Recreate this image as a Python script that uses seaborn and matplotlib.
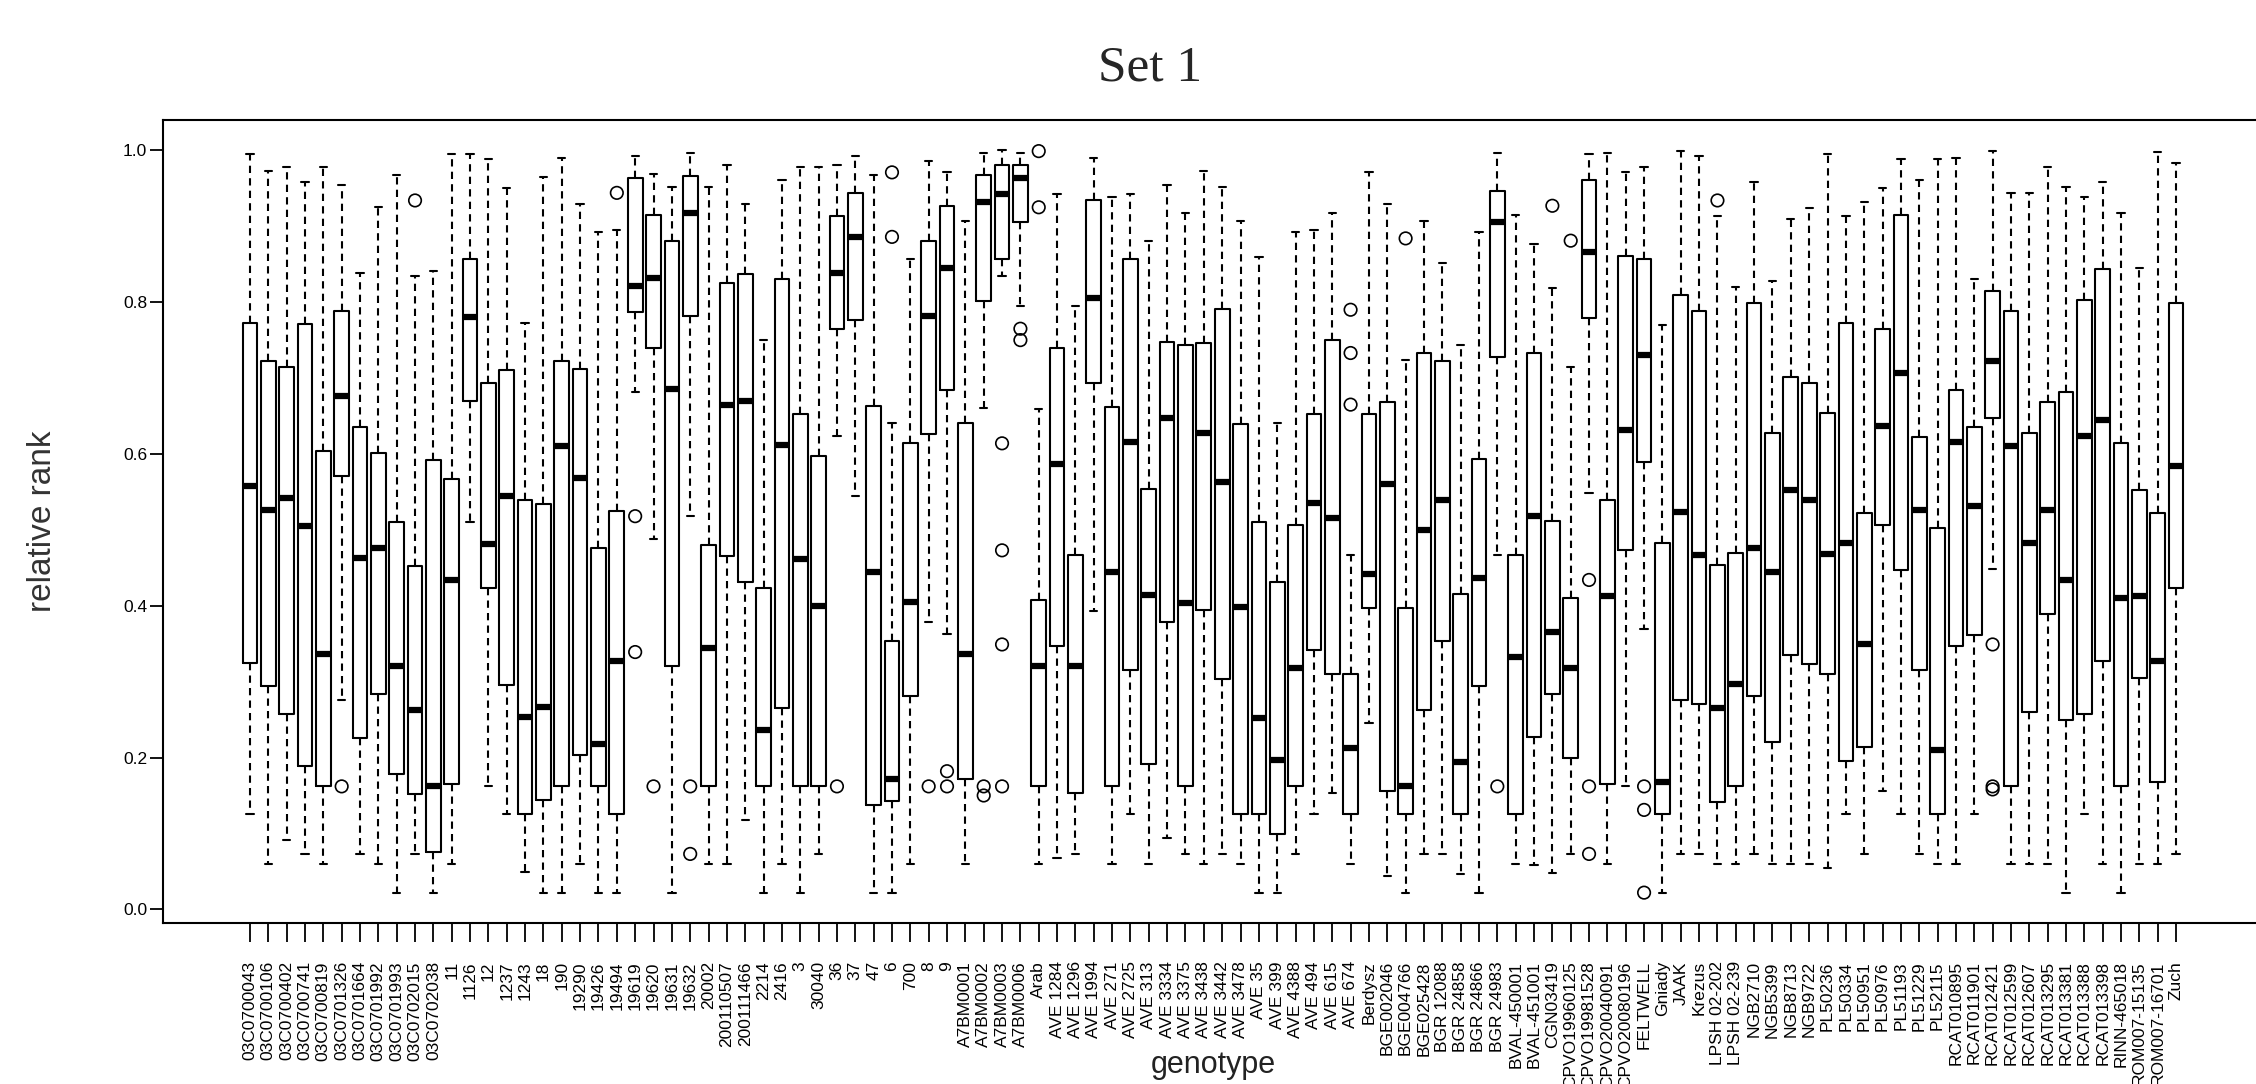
"""Boxplots of relative rank per genotype (Set 1)."""

import matplotlib

matplotlib.use("Agg")
import matplotlib.pyplot as plt
import pandas as pd
import seaborn as sns

genotypes = [
    "03C0700043", "03C0700106", "03C0700402", "03C0700741", "03C0700819",
    "03C0701326", "03C0701664", "03C0701992", "03C0701993", "03C0702015",
    "03C0702038", "11", "1126", "12", "1237", "1243", "18", "190", "19290",
    "19426", "19494", "19619", "19620", "19631", "19632", "20002",
    "200110507", "200111466", "2214", "2416", "3", "30040", "36", "37", "47",
    "6", "700", "8", "9", "A7BM0001", "A7BM0002", "A7BM0003", "A7BM0006",
    "Arab", "AVE 1284", "AVE 1296", "AVE 1994", "AVE 271", "AVE 2725",
    "AVE 313", "AVE 3334", "AVE 3375", "AVE 3438", "AVE 3442", "AVE 3478",
    "AVE 35", "AVE 399", "AVE 4388", "AVE 494", "AVE 615", "AVE 674",
    "Berdysz", "BGE002046", "BGE004766", "BGE025428", "BGR 12088",
    "BGR 24858", "BGR 24866", "BGR 24983", "BVAL-450001", "BVAL-451001",
    "CGN03419", "CPVO19960125", "CPVO19981528", "CPVO20040091",
    "CPVO20080196", "FELTWELL", "Gniady", "JAAK", "Krezus", "LPSH 02-202",
    "LPSH 02-239", "NGB2710", "NGB5399", "NGB8713", "NGB9722", "PL50236",
    "PL50334", "PL50951", "PL50976", "PL51193", "PL51229", "PL52115",
    "RCAT010895", "RCAT011901", "RCAT012421", "RCAT012599", "RCAT012607",
    "RCAT013295", "RCAT013381", "RCAT013388", "RCAT013398", "RINN-465018",
    "ROM007-15135", "ROM007-16701", "Zuch",
]

# five-number summaries (whisker ends, hinges, median)
whisker_low = [
    0.126, 0.060, 0.091, 0.073, 0.060, 0.276, 0.073, 0.060, 0.022, 0.073,
    0.022, 0.060, 0.510, 0.162, 0.126, 0.049, 0.022, 0.022, 0.060, 0.022,
    0.022, 0.682, 0.488, 0.022, 0.518, 0.060, 0.060, 0.118, 0.022, 0.060,
    0.022, 0.073, 0.624, 0.544, 0.022, 0.022, 0.060, 0.379, 0.363, 0.060,
    0.660, 0.835, 0.795, 0.060, 0.067, 0.073, 0.393, 0.060, 0.126, 0.060,
    0.094, 0.073, 0.060, 0.073, 0.060, 0.022, 0.022, 0.073, 0.126, 0.153,
    0.060, 0.245, 0.044, 0.022, 0.073, 0.073, 0.046, 0.022, 0.467, 0.060,
    0.058, 0.048, 0.073, 0.548, 0.060, 0.162, 0.369, 0.022, 0.073, 0.073,
    0.060, 0.060, 0.073, 0.060, 0.060, 0.060, 0.054, 0.126, 0.073, 0.156,
    0.126, 0.073, 0.060, 0.060, 0.126, 0.449, 0.060, 0.060, 0.060, 0.022,
    0.126, 0.060, 0.022, 0.060, 0.060, 0.073,
]
lower_hinge = [
    0.325, 0.294, 0.257, 0.189, 0.162, 0.571, 0.226, 0.284, 0.178, 0.152,
    0.075, 0.165, 0.670, 0.423, 0.296, 0.126, 0.144, 0.162, 0.204, 0.162,
    0.126, 0.787, 0.740, 0.321, 0.782, 0.162, 0.465, 0.431, 0.162, 0.265,
    0.162, 0.162, 0.765, 0.777, 0.138, 0.143, 0.281, 0.626, 0.684, 0.172,
    0.801, 0.857, 0.905, 0.162, 0.347, 0.153, 0.694, 0.162, 0.315, 0.192,
    0.379, 0.162, 0.395, 0.303, 0.126, 0.126, 0.099, 0.162, 0.342, 0.310,
    0.126, 0.397, 0.156, 0.126, 0.262, 0.354, 0.126, 0.294, 0.728, 0.126,
    0.227, 0.284, 0.199, 0.779, 0.165, 0.474, 0.590, 0.126, 0.276, 0.270,
    0.141, 0.162, 0.281, 0.220, 0.335, 0.323, 0.310, 0.196, 0.214, 0.507,
    0.447, 0.315, 0.126, 0.347, 0.361, 0.648, 0.162, 0.260, 0.389, 0.250,
    0.257, 0.327, 0.162, 0.305, 0.168, 0.423,
]
median = [
    0.558, 0.526, 0.542, 0.505, 0.337, 0.676, 0.463, 0.476, 0.321, 0.263,
    0.162, 0.434, 0.780, 0.481, 0.544, 0.254, 0.267, 0.610, 0.568, 0.218,
    0.327, 0.821, 0.832, 0.685, 0.918, 0.344, 0.665, 0.670, 0.236, 0.612,
    0.461, 0.400, 0.838, 0.886, 0.444, 0.172, 0.405, 0.782, 0.845, 0.337,
    0.932, 0.942, 0.964, 0.321, 0.587, 0.321, 0.805, 0.444, 0.616, 0.414,
    0.648, 0.403, 0.627, 0.563, 0.398, 0.252, 0.197, 0.318, 0.536, 0.516,
    0.212, 0.442, 0.561, 0.162, 0.500, 0.539, 0.194, 0.437, 0.906, 0.333,
    0.518, 0.365, 0.318, 0.866, 0.413, 0.631, 0.731, 0.168, 0.524, 0.467,
    0.265, 0.297, 0.476, 0.444, 0.553, 0.539, 0.468, 0.483, 0.349, 0.637,
    0.707, 0.526, 0.210, 0.616, 0.532, 0.723, 0.610, 0.483, 0.526, 0.434,
    0.624, 0.645, 0.410, 0.413, 0.327, 0.584,
]
upper_hinge = [
    0.772, 0.723, 0.714, 0.771, 0.604, 0.789, 0.636, 0.601, 0.510, 0.452,
    0.592, 0.567, 0.857, 0.694, 0.710, 0.539, 0.534, 0.723, 0.712, 0.476,
    0.525, 0.963, 0.915, 0.881, 0.966, 0.480, 0.825, 0.837, 0.423, 0.831,
    0.652, 0.597, 0.913, 0.944, 0.663, 0.354, 0.614, 0.881, 0.927, 0.641,
    0.968, 0.981, 0.981, 0.407, 0.739, 0.467, 0.934, 0.662, 0.857, 0.554,
    0.748, 0.744, 0.746, 0.791, 0.639, 0.510, 0.431, 0.507, 0.652, 0.750,
    0.310, 0.652, 0.668, 0.397, 0.733, 0.723, 0.415, 0.594, 0.947, 0.467,
    0.733, 0.512, 0.410, 0.961, 0.539, 0.861, 0.857, 0.483, 0.810, 0.789,
    0.454, 0.469, 0.799, 0.628, 0.702, 0.694, 0.654, 0.773, 0.522, 0.765,
    0.915, 0.622, 0.503, 0.684, 0.636, 0.815, 0.789, 0.628, 0.668, 0.682,
    0.803, 0.844, 0.614, 0.552, 0.522, 0.799,
]
whisker_high = [
    0.995, 0.973, 0.978, 0.958, 0.978, 0.954, 0.839, 0.925, 0.968, 0.835,
    0.841, 0.995, 0.995, 0.988, 0.951, 0.773, 0.965, 0.990, 0.929, 0.893,
    0.895, 0.992, 0.969, 0.952, 0.997, 0.952, 0.981, 0.929, 0.750, 0.961,
    0.978, 0.978, 0.981, 0.992, 0.968, 0.641, 0.857, 0.986, 0.971, 0.907,
    0.997, 1.000, 0.997, 0.659, 0.942, 0.795, 0.990, 0.939, 0.942, 0.881,
    0.954, 0.918, 0.973, 0.952, 0.907, 0.859, 0.641, 0.893, 0.895, 0.918,
    0.467, 0.971, 0.929, 0.724, 0.907, 0.852, 0.744, 0.893, 0.997, 0.915,
    0.876, 0.818, 0.714, 0.995, 0.997, 0.971, 0.978, 0.770, 0.999, 0.992,
    0.913, 0.820, 0.958, 0.828, 0.910, 0.924, 0.995, 0.913, 0.932, 0.950,
    0.988, 0.961, 0.988, 0.990, 0.830, 0.999, 0.944, 0.944, 0.978, 0.952,
    0.939, 0.958, 0.918, 0.845, 0.998, 0.984,
]

outlier_genotypes = [
    "03C0701326", "03C0702015", "19494", "19619", "19619", "19620", "19632",
    "19632", "36", "6", "6", "8", "9", "9", "A7BM0002", "A7BM0002",
    "A7BM0003", "A7BM0003", "A7BM0003", "A7BM0003", "A7BM0006", "A7BM0006",
    "Arab", "Arab", "AVE 674", "AVE 674", "AVE 674", "BGE004766",
    "BGR 24983", "CGN03419", "CPVO19960125", "CPVO19981528", "CPVO19981528",
    "CPVO19981528", "FELTWELL", "FELTWELL", "FELTWELL", "LPSH 02-202",
    "RCAT012421", "RCAT012421", "RCAT012421",
]
outlier_values = [
    0.162, 0.934, 0.944, 0.518, 0.339, 0.162, 0.162, 0.073, 0.162, 0.971,
    0.886, 0.162, 0.182, 0.162, 0.162, 0.150, 0.614, 0.473, 0.349, 0.162,
    0.765, 0.750, 0.999, 0.925, 0.790, 0.733, 0.665, 0.884, 0.162, 0.927,
    0.881, 0.434, 0.162, 0.073, 0.162, 0.131, 0.022, 0.934, 0.349, 0.162,
    0.158,
]

summary = pd.DataFrame({
    "genotype": genotypes,
    "low": whisker_low,
    "q1": lower_hinge,
    "median": median,
    "q3": upper_hinge,
    "high": whisker_high,
})
long = summary.melt(id_vars="genotype", value_name="relative rank")
outliers = pd.DataFrame({"genotype": outlier_genotypes, "relative rank": outlier_values})

sns.set_theme(style="white")
plt.rcParams["font.family"] = ["Liberation Sans", "DejaVu Sans"]

W, H = 2256, 1084
fig = plt.figure(figsize=(W / 100, H / 100), dpi=100)
ax = fig.add_axes([163 / W, (H - 923) / H, (2263 - 163) / W, (923 - 120) / H])

sns.boxplot(
    data=long,
    x="genotype",
    y="relative rank",
    order=genotypes,
    whis=(0, 100),
    width=0.8,
    fill=False,
    color="black",
    linecolor="black",
    linewidth=1.5,
    showfliers=False,
    medianprops={"linewidth": 4.5, "solid_capstyle": "butt"},
    whiskerprops={"linestyle": (0, (3.5, 2.5))},
    ax=ax,
)
sns.stripplot(
    data=outliers,
    x="genotype",
    y="relative rank",
    order=genotypes,
    jitter=False,
    marker="o",
    size=9,
    facecolors="none",
    edgecolor="black",
    linewidth=1.2,
    ax=ax,
)

ax.set_xlim(-4.74, len(genotypes) - 1 + 4.74)
ax.set_ylim(-0.018, 1.04)
ax.set_yticks([0.0, 0.2, 0.4, 0.6, 0.8, 1.0])
ax.set_yticklabels(["0.0", "0.2", "0.4", "0.6", "0.8", "1.0"])
ax.set_xticks(range(len(genotypes)))
ax.set_xticklabels(genotypes, rotation=90)

for spine in ax.spines.values():
    spine.set_visible(True)
    spine.set_color("black")
    spine.set_linewidth(1.5)

ax.tick_params(axis="both", direction="out", width=1.3,
               color="black", labelsize=12.5, labelcolor="black")
ax.tick_params(axis="x", length=13.5, pad=14, bottom=True)
ax.tick_params(axis="y", length=9.5, pad=2, left=True)

ax.set_xlabel("genotype", fontsize=22, color="#222222")
ax.set_ylabel("relative rank", fontsize=24, color="#333333")
ax.xaxis.set_label_coords(0.5, -0.158)
ax.yaxis.set_label_coords(-0.050, 0.5)
ax.grid(False)

fig.text(0.51, 0.937, "Set 1", ha="center", va="center", fontsize=37,
         family=["Liberation Serif", "DejaVu Serif"])

fig.savefig("out.png", dpi=100)
